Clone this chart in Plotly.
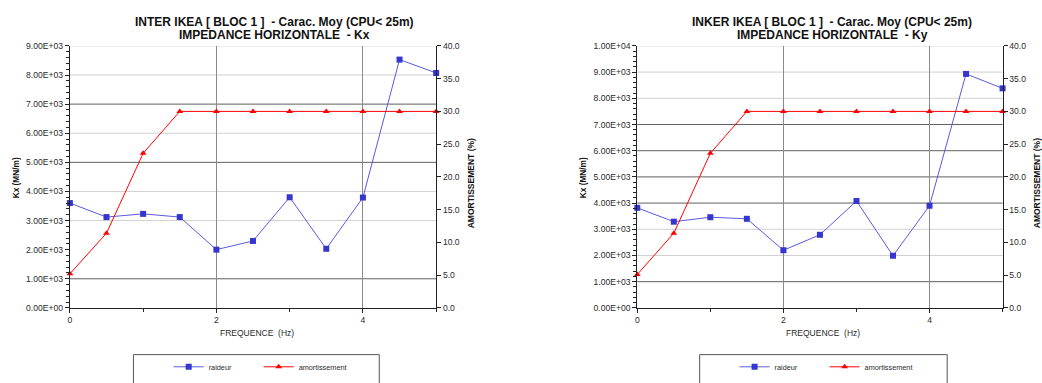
import plotly.graph_objects as go

# ---------------- data ----------------
freq = [0, 0.5, 1, 1.5, 2, 2.5, 3, 3.5, 4, 4.5, 5]

raideur_kx = [3600, 3120, 3230, 3120, 2000, 2300, 3800, 2030, 3790, 8530, 8070]
amort_kx = [5.2, 11.4, 23.6, 30.0, 30.0, 30.0, 30.0, 30.0, 30.0, 30.0, 30.0]

raideur_ky = [3820, 3290, 3460, 3400, 2200, 2790, 4080, 1990, 3900, 8930, 8380]
amort_ky = [5.1, 11.4, 23.6, 30.0, 30.0, 30.0, 30.0, 30.0, 30.0, 30.0, 30.0]

left_ticks_kx = [0, 1000, 2000, 3000, 4000, 5000, 6000, 7000, 8000, 9000]
left_ticks_ky = [0, 1000, 2000, 3000, 4000, 5000, 6000, 7000, 8000, 9000, 10000]
right_ticks = [0, 5, 10, 15, 20, 25, 30, 35, 40]
x_ticks = [0, 2, 4]

title_kx = ["INTER IKEA [ BLOC 1 ]  - Carac. Moy (CPU< 25m)", "IMPEDANCE HORIZONTALE  - Kx"]
title_ky = ["INKER IKEA [ BLOC 1 ]  - Carac. Moy (CPU< 25m)", "IMPEDANCE HORIZONTALE  - Ky"]

# ---------------- styles ----------------
W, H = 1042, 383
FONT = "Liberation Sans, Arial, sans-serif"
BLUE_M = "#3535d0"
BLUE_L = "#5a5ae0"
RED = "#ff0000"
TXT = "#2a2a2a"
DARK_GRID = "#606060"
LIGHT_GRID = "#d0d0d0"
# grid shading per tick (as seen in the reference)
dark_kx = {1000, 5000, 7000}
none_kx = {0, 2000}
dark_ky = {1000, 4000, 5000, 6000, 7000}
none_ky = {0}


def px(x):
    return x / W


def py(y):
    return 1 - y / H


panels = [
    dict(x0=68, x1=435, raid=raideur_kx, amo=amort_kx, lt=left_ticks_kx,
         dark=dark_kx, none=none_kx, title=title_kx, tcx=273,
         ytl=14, ytr=470, xt=255, leg=(131.7, 378), legx=167,
         xa="x", ya="y", ya2="y2", lg="legend"),
    dict(x0=636.5, x1=1002.5, raid=raideur_ky, amo=amort_ky, lt=left_ticks_ky,
         dark=dark_ky, none=none_ky, title=title_ky, tcx=832,
         ytl=582, ytr=1037, xt=823, leg=(699, 947), legx=734,
         xa="x2", ya="y3", ya2="y4", lg="legend2"),
]

fig = go.Figure()
shapes = []
annotations = []
top, bottom = 42, 311

layout = dict(
    width=W, height=H,
    margin=dict(l=0, r=0, t=0, b=0),
    paper_bgcolor="white", plot_bgcolor="white",
    font=dict(family=FONT, size=8.6, color=TXT),
    showlegend=True,
)

for i, p in enumerate(panels):
    xa, ya, ya2 = p["xa"], p["ya"], p["ya2"]
    xkey = "xaxis" if xa == "x" else "xaxis" + xa[1:]
    ykey = "yaxis" if ya == "y" else "yaxis" + ya[1:]
    y2key = "yaxis" + ya2[1:]

    fig.add_trace(go.Scatter(
        x=freq, y=p["raid"], name="raideur", xaxis=xa, yaxis=ya,
        mode="lines+markers", line=dict(color=BLUE_L, width=1),
        marker=dict(symbol="square", size=6, color=BLUE_M),
        legend=p["lg"], cliponaxis=False))
    fig.add_trace(go.Scatter(
        x=freq, y=p["amo"], name="amortissement", xaxis=xa, yaxis=ya2,
        mode="lines+markers", line=dict(color=RED, width=1),
        marker=dict(symbol="triangle-up", size=6, color=RED),
        legend=p["lg"], cliponaxis=False))

    dom_x = [px(p["x0"]), px(p["x1"])]
    dom_y = [py(bottom), py(top)]
    lt = p["lt"]
    layout[xkey] = dict(
        domain=dom_x, anchor=ya, range=[0, 5], tickvals=x_ticks,
        ticktext=[str(v) for v in x_ticks],
        showgrid=True, gridcolor="#8a8a8a", gridwidth=1,
        showline=True, linecolor="#222", linewidth=1,
        ticks="outside", ticklen=4, tickcolor="#222",
        minor=dict(dtick=1, ticks="outside", ticklen=3, tickcolor="#222", showgrid=False),
        zeroline=False, tickfont=dict(size=8.6, color=TXT),
        title=dict(text=""),
    )
    layout[ykey] = dict(
        domain=dom_y, anchor=xa, range=[lt[0], lt[-1]], tickvals=lt,
        ticktext=[f"{v:.2E}" for v in lt],
        showgrid=False, showline=True, linecolor="#222", linewidth=1,
        ticks="outside", ticklen=4, tickcolor="#222",
        minor=dict(dtick=200, ticks="outside", ticklen=3, tickcolor="#222"),
        zeroline=False, tickfont=dict(size=8.6, color=TXT),
    )
    layout[y2key] = dict(
        domain=dom_y, anchor=xa, overlaying=ya, side="right",
        range=[right_ticks[0], right_ticks[-1]], tickvals=right_ticks,
        ticktext=[f"{v:.1f}" for v in right_ticks],
        showgrid=False, showline=True, linecolor="#222", linewidth=1,
        ticks="outside", ticklen=4, tickcolor="#222",
        zeroline=False, tickfont=dict(size=8.6, color=TXT),
    )

    # horizontal grid lines
    for v in lt:
        if v in p["none"]:
            continue
        col = DARK_GRID if v in p["dark"] else LIGHT_GRID
        shapes.append(dict(type="line", xref=f"{xa} domain", yref=ya,
                           x0=0, x1=1, y0=v, y1=v, layer="below",
                           line=dict(color=col, width=1)))

    # legend box
    lx0, lx1 = p["leg"]
    shapes.append(dict(type="rect", xref="paper", yref="paper",
                       x0=px(lx0), x1=px(lx1), y0=py(359), y1=py(400),
                       line=dict(color="#555", width=1), fillcolor="rgba(0,0,0,0)"))

    layout[p["lg"]] = dict(
        orientation="h", x=px(p["legx"]), y=py(371.5), xanchor="left", yanchor="middle",
        xref="paper", yref="paper", bgcolor="rgba(0,0,0,0)", borderwidth=0,
        font=dict(size=7.3, color=TXT, family=FONT), entrywidth=45, itemwidth=30,
        tracegroupgap=0,
    )

    # titles (two lines)
    for line_text, ty in zip(p["title"], [17, 31]):
        annotations.append(dict(
            text="<b>" + line_text + "</b>",
            xref="paper", yref="paper", x=px(p["tcx"]), y=py(ty), showarrow=False,
            xanchor="center", yanchor="middle",
            font=dict(size=12, color="#111", family=FONT)))
    annotations.append(dict(
        text="<b>Kx (MN/m)</b>", textangle=-90, xref="paper", yref="paper",
        x=px(p["ytl"]), y=py(177), showarrow=False, xanchor="center", yanchor="middle",
        font=dict(size=8.3, color="#111", family=FONT)))
    annotations.append(dict(
        text="<b>AMORTISSEMENT (%)</b>", textangle=-90, xref="paper", yref="paper",
        x=px(p["ytr"]), y=py(183), showarrow=False, xanchor="center", yanchor="middle",
        font=dict(size=8.5, color="#111", family=FONT)))
    annotations.append(dict(
        text="FREQUENCE  (Hz)", xref="paper", yref="paper",
        x=px(p["xt"]), y=py(337), showarrow=False, xanchor="center", yanchor="middle",
        font=dict(size=8.5, color=TXT, family=FONT)))

layout["shapes"] = shapes
layout["annotations"] = annotations
fig.update_layout(**layout)
fig.write_html("out.html")
